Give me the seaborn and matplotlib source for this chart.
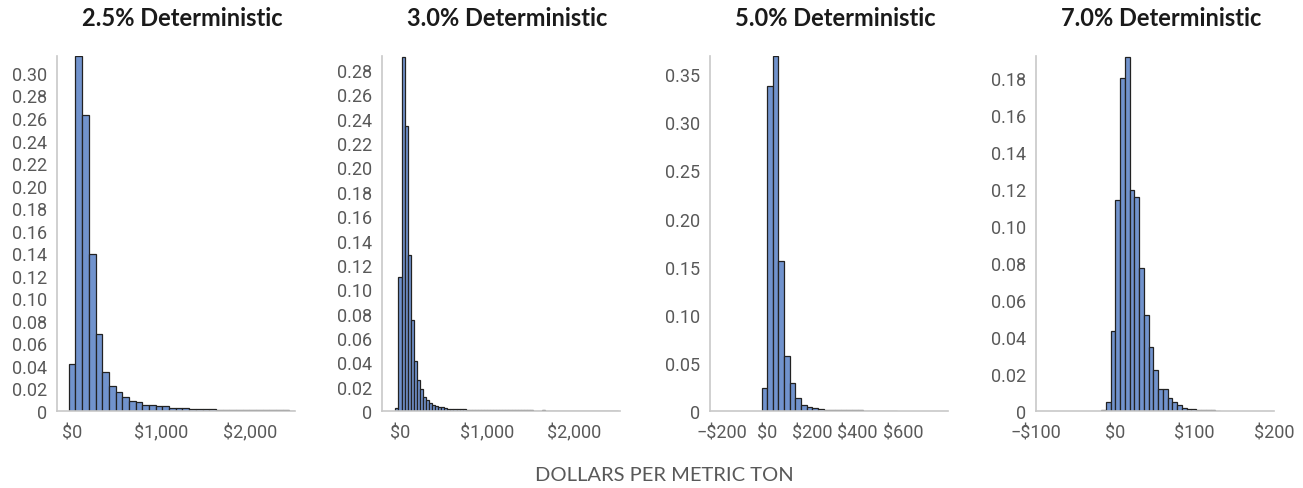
import numpy as np
import pandas as pd
import matplotlib
matplotlib.use("Agg")
import matplotlib.pyplot as plt
import seaborn as sns
from matplotlib.ticker import FuncFormatter

# 2.5% deterministic: bins of $75 centred on multiples of 75
p1_first_center = 0
p1_bin_width = 75
p1_values = [0.042, 0.315, 0.263, 0.139, 0.068, 0.035, 0.022, 0.017, 0.0125, 0.009,
             0.008, 0.0056, 0.0053, 0.0045, 0.004, 0.0027, 0.0024, 0.003, 0.002, 0.002,
             0.0016, 0.0015, 0.0013, 0.0012, 0.001, 0.0008, 0.0008, 0.0011, 0.0009, 0.0007,
             0.0006, 0.0006, 0.0005, 0.0004]

# 3.0% deterministic: bins of $35 centred on multiples of 35
p2_first_center = -35
p2_bin_width = 35
p2_values = [0.0025, 0.110, 0.291, 0.2344, 0.128, 0.0746, 0.0407, 0.0254, 0.0178, 0.0117,
             0.0093, 0.0066, 0.0052, 0.0041, 0.0033, 0.003, 0.0025, 0.002, 0.0019, 0.0016,
             0.0015, 0.0014, 0.0013, 0.0012, 0.0012, 0.0011, 0.001, 0.001, 0.0009, 0.0009,
             0.0008, 0.0008, 0.0008, 0.0007, 0.0007, 0.0007, 0.0006, 0.0006, 0.0006, 0.0006,
             0.0005, 0.0005, 0.0005, 0.0005, 0.0005, 0.0004, 0.0004, 0.0004, 0.0006, 0.0004,
             0.0004, 0.0004, 0.0003, 0.0003, 0.0003, 0.0003, 0.0003, 0.0003, 0.0003, 0.0003,
             0.0003, 0.0002, 0.0002, 0.0002, 0.0002, 0.0002, 0.0002, 0.0002, 0.0002, 0.0002,
             0.0002, 0.0002, 0.0002]

# 5.0% deterministic: bins of $25 starting at -$25
p3_first_center = -12.5
p3_bin_width = 25
p3_values = [0.0239, 0.338, 0.3685, 0.156, 0.057, 0.029, 0.0135, 0.0062, 0.0038, 0.0028,
             0.002, 0.0014, 0.0012, 0.001, 0.0009, 0.0008, 0.0007, 0.0006, 0.0005, 0.0005,
             0.0004, 0.0004, 0.0003, 0.0003]

# 7.0% deterministic: bins of $6 starting at -$18
p4_first_center = -15
p4_bin_width = 6
p4_values = [0.0005, 0.005, 0.043, 0.114, 0.18, 0.191, 0.1195, 0.1157, 0.077, 0.052,
             0.0345, 0.022, 0.012, 0.0117, 0.0072, 0.005, 0.0034, 0.0018, 0.0012, 0.0009,
             0.0007, 0.0006, 0.0005, 0.0004, 0.0002]

titles = ["2.5% Deterministic", "3.0% Deterministic", "5.0% Deterministic", "7.0% Deterministic"]
x_ticks = [[0, 1000, 2000], [0, 1000, 2000], [-200, 0, 200, 400, 600, 800], [-100, 0, 100, 200]]
x_limits = [(-170, 2500), (-206, 2520), (-253, 800), (-100, 200)]
y_ticks = [np.arange(0, 0.301, 0.02), np.arange(0, 0.281, 0.02),
           np.arange(0, 0.351, 0.05), np.arange(0, 0.181, 0.02)]
y_tops = [0.315, 0.2915, 0.369, 0.1917]
x_label = "DOLLARS PER METRIC TON"

sns.set_theme(style="white")
plt.rcParams["font.family"] = ["Roboto", "DejaVu Sans"]

BAR_COLOR = "#7193CD"
EDGE_COLOR = "#222222"
AXIS_COLOR = "#C8C8C8"
TEXT_COLOR = "#595959"


def dollar(v, _pos, hide=None):
    if hide is not None and v in hide:
        return ""
    sign = "\u2212" if v < 0 else ""
    return f"{sign}${abs(v):,.0f}"


def prob(v, _pos):
    return "0" if abs(v) < 1e-9 else f"{v:.2f}"


fig = plt.figure(figsize=(13.03, 4.89), dpi=100)
W, H = 1303, 489
lefts = [57, 382, 710, 1036]
width_px = 238
top_px, bottom_px = 57, 412

panels = [
    (p1_first_center, p1_bin_width, p1_values),
    (p2_first_center, p2_bin_width, p2_values),
    (p3_first_center, p3_bin_width, p3_values),
    (p4_first_center, p4_bin_width, p4_values),
]

for i, (first_center, bin_width, values) in enumerate(panels):
    ax = fig.add_axes([lefts[i] / W, 1 - bottom_px / H, width_px / W, (bottom_px - top_px) / H])
    df = pd.DataFrame({
        "cost": first_center + bin_width * np.arange(len(values)),
        "share": values,
    })
    lo = first_center - bin_width / 2
    hi = lo + bin_width * len(values)
    sns.histplot(data=df, x="cost", weights="share", binwidth=bin_width, binrange=(lo, hi),
                 ax=ax, color=BAR_COLOR, edgecolor=EDGE_COLOR, linewidth=0.9, alpha=1)

    ax.set_xlim(*x_limits[i])
    ax.set_ylim(0, y_tops[i])
    ax.set_xticks(x_ticks[i])
    hide = {800} if i == 2 else None
    ax.xaxis.set_major_formatter(FuncFormatter(lambda v, p, h=hide: dollar(v, p, h)))
    ax.set_yticks(y_ticks[i])
    ax.yaxis.set_major_formatter(FuncFormatter(prob))
    ax.set_xlabel("")
    ax.set_ylabel("")

    for side in ["top", "right"]:
        ax.spines[side].set_visible(False)
    for side in ["left", "bottom"]:
        ax.spines[side].set_color(AXIS_COLOR)
        ax.spines[side].set_linewidth(1.2)
    ax.tick_params(axis="both", which="major", direction="out", length=3, width=1,
                   color=AXIS_COLOR, labelcolor=TEXT_COLOR, labelsize=13)
    ax.tick_params(axis="y", pad=4)
    ax.tick_params(axis="x", pad=6)
    ax.set_axisbelow(False)

    center_px = lefts[i] + width_px / 2 + 6
    fig.text(center_px / W, 1 - 18 / H, titles[i], ha="center", va="center",
             fontsize=17, fontweight="bold", color="#1a1a1a",
             family=["Lato", "Roboto", "DejaVu Sans"])

fig.text(664 / W, 1 - 476 / H, x_label, ha="center", va="center", fontsize=14.5,
         color=TEXT_COLOR, family=["Lato", "DejaVu Sans"])

fig.savefig("out.png", dpi=100)
